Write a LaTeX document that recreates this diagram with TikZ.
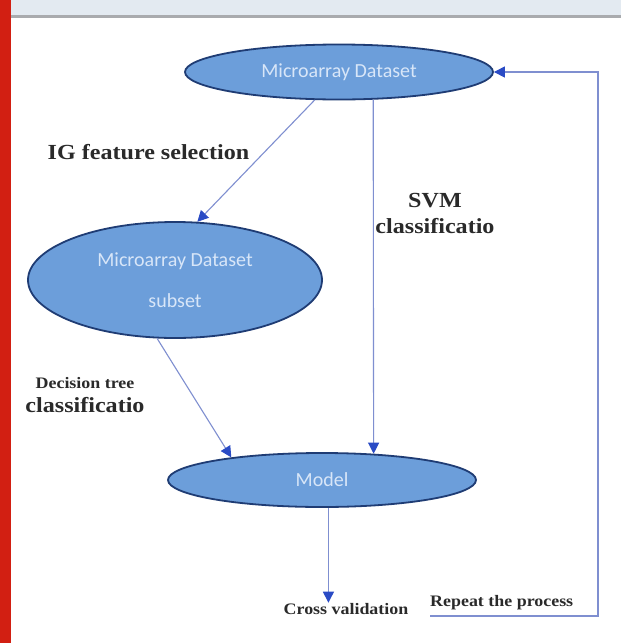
\documentclass[tikz,border=0pt]{standalone}
\usepackage{fontspec}
\setmainfont{Liberation Serif}
\newfontfamily\labfont[FakeStretch=1.12]{Liberation Serif}
\newfontfamily\elfont{Carlito}
\usetikzlibrary{arrows.meta,shapes.geometric}
\definecolor{redbar}{HTML}{D21F12}
\definecolor{headbg}{HTML}{E3EAF1}
\definecolor{headline}{HTML}{A9ABAE}
\definecolor{ellfill}{HTML}{6C9EDA}
\definecolor{ellborder}{HTML}{1F3C74}
\definecolor{elltext}{HTML}{D8E6F8}
\definecolor{conn}{HTML}{7F8FD0}
\definecolor{tipblue}{HTML}{2A4BC5}
\definecolor{labtext}{HTML}{2A2A2A}
\tikzset{
  ellnode/.style={ellipse, draw=ellborder, line width=1.8pt, fill=ellfill, inner sep=0pt,
    text=elltext, font=\elfont\fontsize{20}{41}\selectfont},
  biglab/.style={inner sep=0pt, anchor=base, text=labtext, font=\labfont\bfseries\fontsize{21.5}{26}\selectfont},
  smalllab/.style={inner sep=0pt, anchor=base, text=labtext, font=\labfont\bfseries\fontsize{16}{20}\selectfont},
  connector/.style={draw=conn, line width=1.1pt, -{Triangle[length=11pt,width=11pt,fill=tipblue,color=tipblue]}},
}
\begin{document}
\begin{tikzpicture}[x=1pt,y=-1pt]
\useasboundingbox (0,0) rectangle (621,643);
\fill[white] (0,0) rectangle (621,643);
\fill[redbar] (0,0) rectangle (11,643);
\fill[headbg] (11,0) rectangle (621,15);
\fill[headline] (11,15) rectangle (621,17.5);

% ellipses
\node[ellnode, minimum width=308pt, minimum height=55pt] (top) at (339,72) {Microarray Dataset};
\node[ellnode, minimum width=294pt, minimum height=116pt, align=center] (mid) at (175,280) {Microarray Dataset\\subset};
\node[ellnode, minimum width=308pt, minimum height=54pt] (model) at (322,480) {Model};

% labels
\node[biglab] (ig) at (148.5,159) {IG feature selection};
\node[biglab, align=center] (svm) at (435,233) {SVM\\classificatio};
\node[smalllab] (dt) at (85,388) {Decision tree};
\node[biglab] (dtc) at (85,412) {classificatio};
\node[smalllab] (cv) at (346,614) {Cross validation};
\node[smalllab, anchor=base west] (rep) at (430,606) {Repeat the process};

% connectors
\draw[connector] (top.-131) -- (mid.69);
\draw[connector] (top.-39.5) -- (model.27.6);
\draw[connector] (mid.-107) -- (model.166);
\draw[connector] (model.-77.5) -- (model.-77.5 |- cv.north);
\coordinate (ul) at (430,616);
\coordinate (bend) at (598,616);
\draw[connector] (ul) -- (bend) |- (top.east);
\end{tikzpicture}
\end{document}
